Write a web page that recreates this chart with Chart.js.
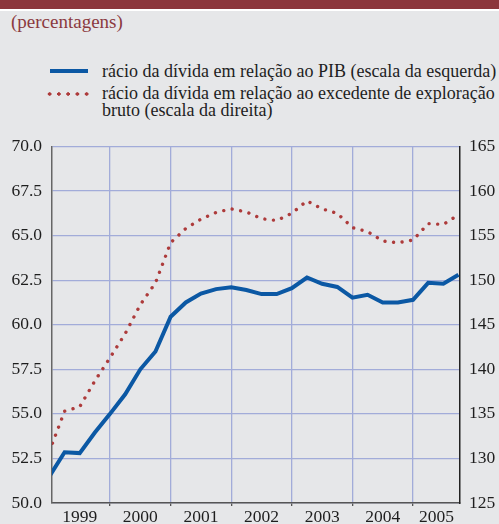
<!DOCTYPE html>
<html>
<head>
<meta charset="utf-8">
<script src="https://cdn.jsdelivr.net/npm/chart.js@4"></script>
<style>
html, body { margin: 0; padding: 0; overflow: hidden; }
body { width: 499px; height: 524px; background: #e6e7e9; position: relative; font-family: "Liberation Serif", "Times New Roman", serif; }
#bar { position: absolute; left: 0; top: 0; width: 499px; height: 9px; background: #8c353b; }
#line { position: absolute; left: 0; top: 9px; width: 499px; height: 2px; background: #fff; }
#unit { position: absolute; left: 11px; top: 11.6px; font-size: 19px; line-height: 19px; color: #8b3a40; }
.sw { position: absolute; }
.lab { position: absolute; left: 102px; font-size: 18px; line-height: 16.5px; color: #1e1e1e; white-space: pre; }
#wrap { position: absolute; left: 0; top: 126px; width: 499px; height: 407px; }
</style>
</head>
<body>
<div id="bar"></div>
<div id="line"></div>
<div id="unit">(percentagens)</div>
<div class="sw" style="left:50px; top:69px; width:38px; height:4px; background:#0b58a4;"></div>
<div class="sw" style="left:45.4px; top:91.5px; width:46.25px; height:4px; background:radial-gradient(circle, #ad3b3b 1.5px, transparent 1.9px) 0 0 / 9.25px 4px repeat-x;"></div>
<div class="lab" id="lab0" style="top:63.2px;"></div>
<div class="lab" id="lab1" style="top:85.2px;"></div>
<div id="wrap"><canvas id="myChart"></canvas></div>
<script>
// quarters, 1998 T4 .. 2005 T3
var quarters = ["1998 T4",
    "1999 T1", "1999 T2", "1999 T3", "1999 T4",
    "2000 T1", "2000 T2", "2000 T3", "2000 T4",
    "2001 T1", "2001 T2", "2001 T3", "2001 T4",
    "2002 T1", "2002 T2", "2002 T3", "2002 T4",
    "2003 T1", "2003 T2", "2003 T3", "2003 T4",
    "2004 T1", "2004 T2", "2004 T3", "2004 T4",
    "2005 T1", "2005 T2", "2005 T3"];
var years = ["1999", "2000", "2001", "2002", "2003", "2004", "2005"];

var seriesLabels = [
    "rácio da dívida em relação ao PIB (escala da esquerda)",
    "rácio da dívida em relação ao excedente de exploração\nbruto (escala da direita)"
];

// left scale
var debtGdp = [51.5, 52.85, 52.8, 53.95, 55.0, 56.1, 57.5, 58.5, 60.45, 61.25, 61.75, 62.0,
    62.1, 61.95, 61.72, 61.72, 62.05, 62.65, 62.3, 62.12, 61.52, 61.68, 61.25, 61.25,
    61.4, 62.35, 62.3, 62.8];
// right scale
var debtSurplus = [130.8, 135.3, 135.8, 138.7, 141.3, 144.0, 147.25, 149.7, 154.2, 155.8, 156.85, 157.6,
    158.0, 157.65, 156.9, 156.7, 157.5, 158.9, 158.0, 157.5, 155.9, 155.45, 154.4, 154.2,
    154.5, 156.35, 156.25, 157.35];

var leftTicks = [50, 52.5, 55, 57.5, 60, 62.5, 65, 67.5, 70];
var rightTicks = [125, 130, 135, 140, 145, 150, 155, 160, 165];

document.getElementById('lab0').textContent = seriesLabels[0];
document.getElementById('lab1').textContent = seriesLabels[1];

// year boundaries: index of first quarter of each year after 1999
var xMin = 0.17, xMax = 27.1;
var boundaries = [];
quarters.forEach(function (q, i) {
    if (q.indexOf("T4") > 0 && i > 0) boundaries.push(i);
});
var yearPos = {};
years.forEach(function (y, k) {
    var a = k * 4, b = Math.min(k * 4 + 4, xMax);
    yearPos[((a + b) / 2).toFixed(2)] = y;
});
var xTicks = boundaries.concat(Object.keys(yearPos).map(Number)).sort(function (a, b) { return a - b; });

var gridBlue = "#a2acd9";

var ctx = document.getElementById('myChart').getContext('2d');
var data = {
    datasets: [
        {
            label: seriesLabels[0],
            data: debtGdp.map(function (v, i) { return { x: i, y: v }; }),
            borderColor: "#0b58a4",
            backgroundColor: "#0b58a4",
            borderWidth: 4,
            fill: false,
            tension: 0,
            pointRadius: 0,
            yAxisID: "y"
        },
        {
            label: seriesLabels[1],
            data: debtSurplus.map(function (v, i) { return { x: i, y: v }; }),
            borderColor: "#ad3b3b",
            backgroundColor: "#ad3b3b",
            borderWidth: 3.4,
            borderDash: [0.01, 8.6],
            borderCapStyle: "round",
            fill: false,
            tension: 0,
            pointRadius: 0,
            yAxisID: "y1"
        }
    ]
};

var tickFont = { family: "'Liberation Serif', 'Times New Roman', serif", size: 17.5 };

//options
var options = {
    responsive: true,
    maintainAspectRatio: false,
    animation: false,
    layout: { padding: { top: 12, left: 0, right: 0, bottom: 0 } },
    plugins: { legend: { display: false }, tooltip: { enabled: false } },
    scales: {
        x: {
            type: "linear",
            min: xMin,
            max: xMax,
            afterBuildTicks: function (axis) {
                axis.ticks = xTicks.map(function (v) { return { value: v }; });
            },
            afterFit: function (axis) { axis.height = 30; },
            ticks: {
                autoSkip: false,
                maxRotation: 0,
                padding: 1,
                color: "#1e1e1e",
                font: tickFont,
                callback: function (v) { return yearPos[Number(v).toFixed(2)] || ""; }
            },
            grid: {
                color: function (c) {
                    return c.tick && boundaries.indexOf(c.tick.value) >= 0 ? gridBlue : "transparent";
                },
                tickColor: function (c) {
                    return c.tick && boundaries.indexOf(c.tick.value) >= 0 ? "#555" : "transparent";
                },
                tickLength: 3,
                lineWidth: 1.3
            },
            border: { color: "#555", width: 1.5 }
        },
        y: {
            position: "left",
            min: 50,
            max: 70,
            afterBuildTicks: function (axis) {
                axis.ticks = leftTicks.map(function (v) { return { value: v }; });
            },
            afterFit: function (axis) { axis.width = 52; },
            ticks: {
                padding: 10,
                color: "#1e1e1e",
                font: tickFont,
                callback: function (v) { return Number(v).toFixed(1); }
            },
            grid: { color: gridBlue, lineWidth: 1.3, drawTicks: false },
            border: { color: "#666", width: 1.5 }
        },
        y1: {
            position: "right",
            min: 125,
            max: 165,
            afterBuildTicks: function (axis) {
                axis.ticks = rightTicks.map(function (v) { return { value: v }; });
            },
            afterFit: function (axis) { axis.width = 39; },
            ticks: {
                padding: 9,
                color: "#1e1e1e",
                font: tickFont
            },
            grid: { drawOnChartArea: false, drawTicks: false },
            border: { color: "#222", width: 1.5 }
        }
    }
};

//create Chart class object
var chart = new Chart(ctx, {
    type: "line",
    data: data,
    options: options
});
</script>
</body>
</html>
